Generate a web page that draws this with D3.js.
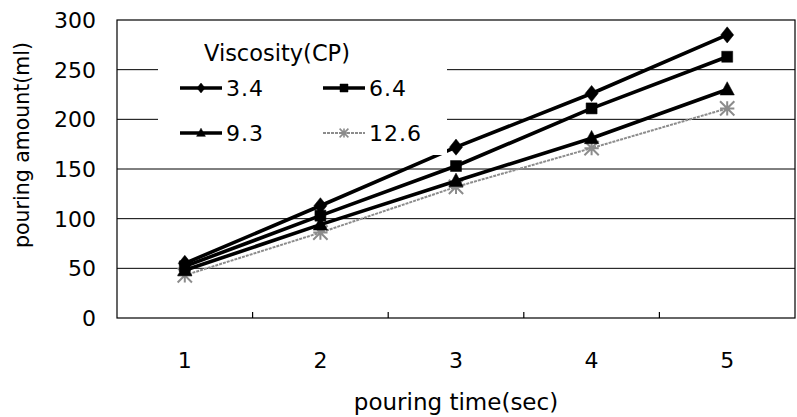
<!DOCTYPE html>
<html>
<head>
<meta charset="utf-8">
<script src="https://cdn.jsdelivr.net/npm/d3@7"></script>
<style>
  html, body { margin: 0; padding: 0; background: #fff; }
  svg { display: block; }
  text { font-family: "DejaVu Sans", sans-serif; fill: #000; }
</style>
</head>
<body>
<svg id="chart" width="797" height="417"></svg>
<script>
// ---- data ----
const categories = [1, 2, 3, 4, 5];
const seriesNames = ["3.4", "6.4", "9.3", "12.6"];
const s34  = [55, 113, 172, 226, 285];
const s64  = [52, 103, 153, 211, 263];
const s93  = [48, 94, 138, 181, 230];
const s126 = [43, 86, 132, 171, 211];
const yTicks = [0, 50, 100, 150, 200, 250, 300];
const legendTitle = "Viscosity(CP)";
const xTitle = "pouring time(sec)";
const yTitle = "pouring amount(ml)";

const seriesValues = [s34, s64, s93, s126];
const styles = [
  { color: "#000", width: 3.6, dash: null, marker: "diamond" },
  { color: "#000", width: 3.6, dash: null, marker: "square" },
  { color: "#000", width: 3.6, dash: null, marker: "triangle" },
  { color: "#8c8c8c", width: 2, dash: "3,1", marker: "star" }
];

const svg = d3.select("#chart");
const L = 117, R = 795, T = 20, B = 318;

const x = d3.scaleBand().domain(categories).range([L, R]).padding(0);
const y = d3.scaleLinear().domain([0, 300]).range([B, T]);

// gridlines
svg.append("g").selectAll("line").data(yTicks.filter(d => d > 0 && d < 300)).join("line")
  .attr("x1", L).attr("x2", R)
  .attr("y1", d => y(d)).attr("y2", d => y(d))
  .attr("stroke", "#000").attr("stroke-width", 1);

// plot border
svg.append("rect").attr("x", L).attr("y", T).attr("width", R - L).attr("height", B - T)
  .attr("fill", "none").attr("stroke", "#000").attr("stroke-width", 1.2);

// x axis (inward ticks at band boundaries)
const xb = categories.slice(1).map(c => x(c));
svg.append("g").selectAll("line").data(xb).join("line")
  .attr("x1", d => d).attr("x2", d => d)
  .attr("y1", B).attr("y2", B - 6)
  .attr("stroke", "#000").attr("stroke-width", 1.2);

svg.append("g").selectAll("text").data(categories).join("text")
  .attr("x", d => x(d) + x.bandwidth() / 2)
  .attr("y", 368)
  .attr("text-anchor", "middle")
  .attr("font-size", 22)
  .text(d => d);

// y axis labels
svg.append("g").selectAll("text").data(yTicks).join("text")
  .attr("x", 96)
  .attr("y", d => y(d) + 8)
  .attr("text-anchor", "end")
  .attr("font-size", 22)
  .text(d => d);

// titles
svg.append("text").attr("x", 456).attr("y", 410).attr("text-anchor", "middle")
  .attr("font-size", 23).text(xTitle);
svg.append("text").attr("transform", "translate(29,145) rotate(-90)").attr("text-anchor", "middle")
  .attr("font-size", 20.5).text(yTitle);

// marker generator
function markerPath(type, s) {
  if (type === "diamond") return `M0,${-s*0.62}L${s*0.5},0L0,${s*0.62}L${-s*0.5},0Z`;
  if (type === "square") return `M${-s/2},${-s/2}h${s}v${s}h${-s}Z`;
  if (type === "triangle") return `M0,${-s*0.6}L${s*0.55},${s*0.42}L${-s*0.55},${s*0.42}Z`;
  const r = s * 0.55;
  return `M${-r},${-r}L${r},${r}M${-r},${r}L${r},${-r}M0,${-r}L0,${r}M${-r},0L${r},0`;
}

const line = d3.line().x((d, i) => x(categories[i]) + x.bandwidth() / 2).y(d => y(d));

[3, 2, 1, 0].forEach(k => {
  const st = styles[k];
  const vals = seriesValues[k];
  svg.append("path").datum(vals).attr("d", line)
    .attr("fill", "none").attr("stroke", st.color).attr("stroke-width", st.width)
    .attr("stroke-dasharray", st.dash).attr("stroke-linejoin", "round");
  svg.append("g").selectAll("path").data(vals).join("path")
    .attr("transform", (d, i) => `translate(${x(categories[i]) + x.bandwidth() / 2},${y(d)})`)
    .attr("d", markerPath(st.marker, st.marker === "square" ? 11 : 13))
    .attr("fill", st.marker === "star" ? "none" : st.color)
    .attr("stroke", st.color)
    .attr("stroke-width", st.marker === "star" ? 2 : 0.5);
});

// legend (white box covering plot content)
const lg = svg.append("g");
lg.append("rect").attr("x", 158).attr("y", 30).attr("width", 289).attr("height", 125).attr("fill", "#fff");
lg.append("text").attr("x", 204).attr("y", 61).attr("font-size", 22.5).text(legendTitle);
const legPos = [[180, 88], [323, 88], [180, 133], [323, 133]];
seriesNames.forEach((name, k) => {
  const st = styles[k];
  const [lx, ly] = legPos[k];
  lg.append("line").attr("x1", lx).attr("x2", lx + 42).attr("y1", ly).attr("y2", ly)
    .attr("stroke", st.color).attr("stroke-width", st.width).attr("stroke-dasharray", st.dash);
  lg.append("path").attr("transform", `translate(${lx + 21},${ly})`)
    .attr("d", markerPath(st.marker, 8))
    .attr("fill", st.marker === "star" ? "none" : st.color)
    .attr("stroke", st.color).attr("stroke-width", st.marker === "star" ? 1.6 : 0.5);
  lg.append("text").attr("x", lx + 46).attr("y", ly + 8).attr("font-size", 22)
    .attr("letter-spacing", 1).text(name);
});
</script>
</body>
</html>
